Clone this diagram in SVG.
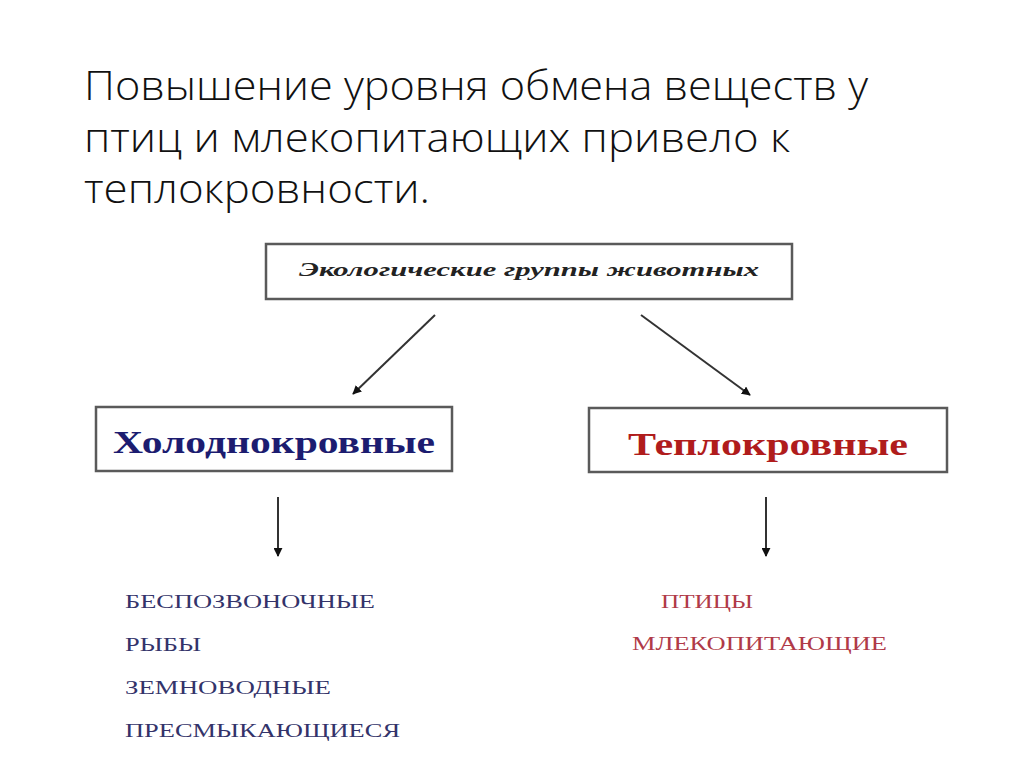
<svg xmlns="http://www.w3.org/2000/svg" width="1024" height="768" viewBox="0 0 1024 768">
<defs>
<marker id="ahs" viewBox="0 0 10 10" refX="9" refY="5" markerWidth="9" markerHeight="9" orient="auto" markerUnits="userSpaceOnUse">
<path d="M0,0 L10,5 L0,10 z" fill="#111"/>
</marker>
</defs>
<style>
.title{font-family:"Open Sans","Liberation Sans",sans-serif;font-weight:300;font-size:40px;fill:#111}
.box{fill:#fff;stroke:#5a5a5a;stroke-width:2.5}
.serif{font-family:"Liberation Serif","DejaVu Serif",serif}
.conn{stroke:#333;stroke-width:2;fill:none}
.cold{fill:#33336a;font-size:19px}
.warm{fill:#b03a48;font-size:19px}
</style>
<rect width="1024" height="768" fill="#fff"/>
<g id="title">
<text class="title" x="84" y="100" textLength="784" lengthAdjust="spacingAndGlyphs">Повышение уровня обмена веществ у</text>
<text class="title" x="84" y="152" textLength="706" lengthAdjust="spacingAndGlyphs">птиц и млекопитающих привело к</text>
<text class="title" x="84" y="203" textLength="346" lengthAdjust="spacingAndGlyphs">теплокровности.</text>
</g>
<g id="root">
<rect class="box" x="266" y="244" width="526" height="55"/>
<text class="serif" x="529" y="276" text-anchor="middle" font-size="19" font-style="italic" font-weight="bold" fill="#222" textLength="460" lengthAdjust="spacingAndGlyphs">Экологические группы животных</text>
</g>
<g id="cold">
<rect class="box" x="96" y="407" width="356" height="64"/>
<text class="serif" x="274" y="453" text-anchor="middle" font-size="31" font-weight="bold" fill="#1c1c70" textLength="322" lengthAdjust="spacingAndGlyphs">Холоднокровные</text>
</g>
<g id="warm">
<rect class="box" x="589" y="408" width="358" height="64"/>
<text class="serif" x="768" y="455" text-anchor="middle" font-size="31" font-weight="bold" fill="#b01c1c" textLength="280" lengthAdjust="spacingAndGlyphs">Теплокровные</text>
</g>
<g id="cold-list" class="serif">
<text class="cold" x="125" y="608" textLength="250" lengthAdjust="spacingAndGlyphs">БЕСПОЗВОНОЧНЫЕ</text>
<text class="cold" x="125" y="651" textLength="76" lengthAdjust="spacingAndGlyphs">РЫБЫ</text>
<text class="cold" x="125" y="694" textLength="206" lengthAdjust="spacingAndGlyphs">ЗЕМНОВОДНЫЕ</text>
<text class="cold" x="125" y="737" textLength="275" lengthAdjust="spacingAndGlyphs">ПРЕСМЫКАЮЩИЕСЯ</text>
</g>
<g id="warm-list" class="serif">
<text class="warm" x="661" y="608" textLength="92" lengthAdjust="spacingAndGlyphs">ПТИЦЫ</text>
<text class="warm" x="632" y="650" textLength="255" lengthAdjust="spacingAndGlyphs">МЛЕКОПИТАЮЩИЕ</text>
</g>
<g id="connectors">
<line class="conn" x1="435" y1="315" x2="353" y2="394" marker-end="url(#ahs)"/>
<line class="conn" x1="641" y1="315" x2="750" y2="395" marker-end="url(#ahs)"/>
<line class="conn" x1="278" y1="497" x2="278" y2="556" marker-end="url(#ahs)"/>
<line class="conn" x1="766" y1="497" x2="766" y2="556" marker-end="url(#ahs)"/>
</g>
</svg>
